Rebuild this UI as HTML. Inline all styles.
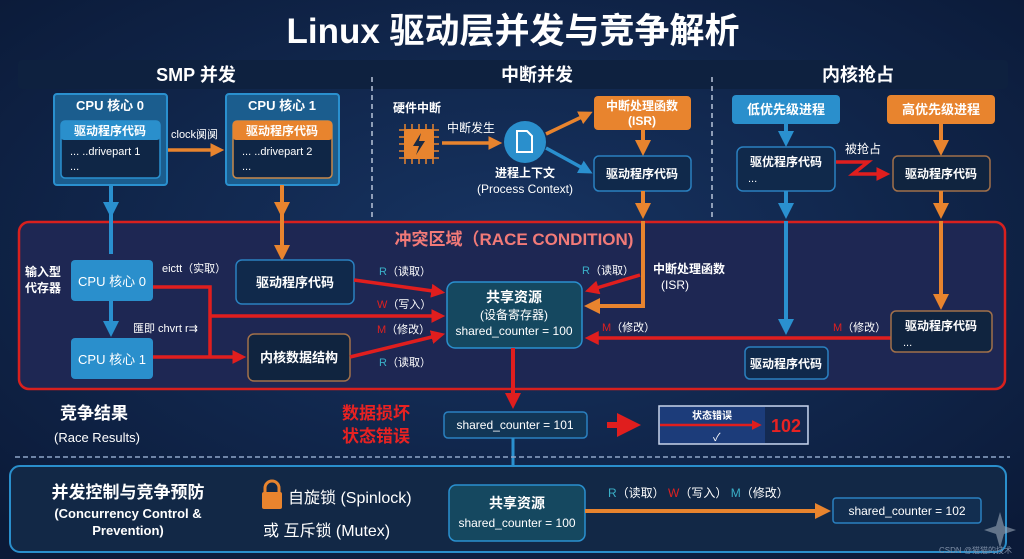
<!DOCTYPE html>
<html><head><meta charset="utf-8"><style>
html,body{margin:0;padding:0;width:1024px;height:559px;overflow:hidden;background:#102446}
svg{display:block}
text{font-family:"Liberation Sans","Noto Sans CJK SC",sans-serif;fill:#fff}
.b{font-weight:bold}
</style></head><body>
<svg width="1024" height="559" viewBox="0 0 1024 559" xmlns="http://www.w3.org/2000/svg">
<defs>
<radialGradient id="bg" cx="50%" cy="45%" r="70%"><stop offset="0" stop-color="#173462"/><stop offset="1" stop-color="#0b1a38"/></radialGradient>
<marker id="ao" markerWidth="4" markerHeight="4" refX="2.5" refY="2" orient="auto" markerUnits="strokeWidth"><path d="M0,0 L4,2 L0,4z" fill="#e8842e"/></marker>
<marker id="ab" markerWidth="4" markerHeight="4" refX="2.5" refY="2" orient="auto" markerUnits="strokeWidth"><path d="M0,0 L4,2 L0,4z" fill="#2a90cf"/></marker>
<marker id="ar" markerWidth="4" markerHeight="4" refX="2.5" refY="2" orient="auto" markerUnits="strokeWidth"><path d="M0,0 L4,2 L0,4z" fill="#e01e1e"/></marker>
</defs>
<rect width="1024" height="559" fill="url(#bg)"/>
<text x="513" y="43" text-anchor="middle" class="b" font-size="35">Linux 驱动层并发与竞争解析</text>
<rect x="18" y="60" width="990" height="29" rx="4" fill="#0e213f"/>
<text x="196" y="81" text-anchor="middle" class="b" font-size="18">SMP 并发</text>
<text x="537" y="81" text-anchor="middle" class="b" font-size="18">中断并发</text>
<text x="858" y="81" text-anchor="middle" class="b" font-size="18">内核抢占</text>
<line x1="372" y1="77" x2="372" y2="375" stroke="#b8c4d8" stroke-width="1.5" stroke-dasharray="5,4"/>
<line x1="712" y1="77" x2="712" y2="375" stroke="#b8c4d8" stroke-width="1.5" stroke-dasharray="5,4"/>

<rect x="19" y="222" width="986" height="167" rx="10" fill="#1e2753" stroke="#d8201e" stroke-width="2.5"/>
<text x="514" y="245" text-anchor="middle" class="b" font-size="17" style="fill:#f27a78">冲突区域（RACE CONDITION)</text>

<rect x="54" y="94" width="113" height="91" rx="3" fill="#1b5d8e" stroke="#2a90cf" stroke-width="2"/>
<text x="110" y="110" text-anchor="middle" class="b" font-size="13">CPU 核心 0</text>
<rect x="61" y="121" width="99" height="57" rx="4" fill="#0f2646" stroke="#2a90cf" stroke-width="1.5"/>
<rect x="61" y="121" width="99" height="19" rx="3" fill="#2a8fcc"/>
<text x="110" y="135" text-anchor="middle" class="b" font-size="12">驱动程序代码</text>
<text x="70" y="155" font-size="11">... ..drivepart 1</text><text x="70" y="170" font-size="11">...</text>
<rect x="226" y="94" width="113" height="91" rx="3" fill="#1b5d8e" stroke="#2a90cf" stroke-width="2"/>
<text x="282" y="110" text-anchor="middle" class="b" font-size="13">CPU 核心 1</text>
<rect x="233" y="121" width="99" height="57" rx="4" fill="#0f2646" stroke="#c8884a" stroke-width="1.5"/>
<rect x="233" y="121" width="99" height="19" rx="3" fill="#e8842e"/>
<text x="282" y="135" text-anchor="middle" class="b" font-size="12">驱动程序代码</text>
<text x="242" y="155" font-size="11">... ..drivepart 2</text><text x="242" y="170" font-size="11">...</text>
<text x="171" y="138" font-size="11">clock阒阒</text>
<line x1="168" y1="150" x2="219" y2="150" stroke="#e8842e" stroke-width="3.5" marker-end="url(#ao)"/>
<line x1="111" y1="185" x2="111" y2="254" stroke="#2a90cf" stroke-width="4"/>
<line x1="111" y1="185" x2="111" y2="212" stroke="#2a90cf" stroke-width="4" marker-end="url(#ab)"/>
<line x1="282" y1="185" x2="282" y2="212" stroke="#e8842e" stroke-width="4" marker-end="url(#ao)"/>
<line x1="282" y1="212" x2="282" y2="255" stroke="#e8842e" stroke-width="4" marker-end="url(#ao)"/>

<text x="25" y="276" class="b" font-size="12">输入型</text><text x="25" y="292" class="b" font-size="12">代存器</text>
<rect x="71" y="260" width="82" height="41" rx="4" fill="#2a8fcc"/>
<text x="112" y="286" text-anchor="middle" font-size="13">CPU 核心 0</text>
<rect x="71" y="338" width="82" height="41" rx="4" fill="#2a8fcc"/>
<text x="112" y="364" text-anchor="middle" font-size="13">CPU 核心 1</text>
<line x1="111" y1="301" x2="111" y2="331" stroke="#2a90cf" stroke-width="4" marker-end="url(#ab)"/>
<text x="162" y="272" font-size="11">eictt（实取）</text>
<text x="133" y="332" font-size="11">匯即 chvrt r⇉</text>
<rect x="236" y="260" width="118" height="44" rx="6" fill="#10294b" stroke="#2a80c0" stroke-width="1.5"/>
<text x="295" y="287" text-anchor="middle" class="b" font-size="13">驱动程序代码</text>
<rect x="248" y="334" width="102" height="47" rx="6" fill="#10243f" stroke="#a0704a" stroke-width="1.5"/>
<text x="299" y="362" text-anchor="middle" class="b" font-size="13">内核数据结构</text>
<polyline points="153,287 210,287 210,357" fill="none" stroke="#e01e1e" stroke-width="3.5"/>
<line x1="210" y1="316" x2="440" y2="316" stroke="#e01e1e" stroke-width="3.5" marker-end="url(#ar)"/>
<line x1="153" y1="357" x2="241" y2="357" stroke="#e01e1e" stroke-width="3.5" marker-end="url(#ar)"/>
<line x1="354" y1="280" x2="440" y2="292" stroke="#e01e1e" stroke-width="3.5" marker-end="url(#ar)"/>
<line x1="350" y1="357" x2="440" y2="335" stroke="#e01e1e" stroke-width="3.5" marker-end="url(#ar)"/>
<text x="379" y="275" font-size="11"><tspan style="fill:#3ab0c8">R</tspan>（读取）</text>
<text x="377" y="308" font-size="11"><tspan style="fill:#e02020">W</tspan>（写入）</text>
<text x="377" y="333" font-size="11"><tspan style="fill:#e02020">M</tspan>（修改）</text>
<text x="379" y="366" font-size="11"><tspan style="fill:#3ab0c8">R</tspan>（读取）</text>

<rect x="447" y="282" width="135" height="66" rx="8" fill="#154860" stroke="#2a90cf" stroke-width="1.5"/>
<text x="514" y="302" text-anchor="middle" class="b" font-size="14">共享资源</text>
<text x="514" y="319" text-anchor="middle" font-size="12">(设备寄存器)</text>
<text x="514" y="335" text-anchor="middle" font-size="12">shared_counter = 100</text>

<text x="393" y="112" class="b" font-size="12">硬件中断</text>
<g stroke="#e8842e" stroke-width="1.5">
<line x1="405" y1="124" x2="405" y2="164"/><line x1="412" y1="124" x2="412" y2="164"/><line x1="419" y1="124" x2="419" y2="164"/><line x1="426" y1="124" x2="426" y2="164"/><line x1="433" y1="124" x2="433" y2="164"/>
<line x1="399" y1="130" x2="439" y2="130"/><line x1="399" y1="137" x2="439" y2="137"/><line x1="399" y1="144" x2="439" y2="144"/><line x1="399" y1="151" x2="439" y2="151"/><line x1="399" y1="158" x2="439" y2="158"/>
</g>
<rect x="404" y="129" width="30" height="30" rx="3" fill="#e8842e"/>
<path d="M421,133 L413,146 L419,146 L416,155 L425,141 L419,141z" fill="#1a2a44"/>
<text x="447" y="132" font-size="12">中断发生</text>
<line x1="442" y1="143" x2="497" y2="143" stroke="#e8842e" stroke-width="3.5" marker-end="url(#ao)"/>
<circle cx="525" cy="142" r="21" fill="#2a8fcc"/>
<path d="M517,131 h10 l5,5 v16 h-15z" fill="none" stroke="#fff" stroke-width="2"/>
<text x="525" y="177" text-anchor="middle" class="b" font-size="12">进程上下文</text>
<text x="525" y="193" text-anchor="middle" font-size="12">(Process Context)</text>
<line x1="546" y1="134" x2="588" y2="114" stroke="#e8842e" stroke-width="3.5" marker-end="url(#ao)"/>
<line x1="546" y1="148" x2="588" y2="171" stroke="#2a90cf" stroke-width="3.5" marker-end="url(#ab)"/>
<rect x="594" y="96" width="97" height="34" rx="4" fill="#e8842e"/>
<text x="642" y="110" text-anchor="middle" class="b" font-size="12">中断处理函数</text>
<text x="642" y="125" text-anchor="middle" class="b" font-size="12">(ISR)</text>
<rect x="594" y="156" width="97" height="35" rx="5" fill="#10294b" stroke="#2a80c0" stroke-width="1.5"/>
<text x="642" y="178" text-anchor="middle" class="b" font-size="12">驱动程序代码</text>
<line x1="643" y1="130" x2="643" y2="150" stroke="#e8842e" stroke-width="4" marker-end="url(#ao)"/>
<line x1="643" y1="191" x2="643" y2="213" stroke="#e8842e" stroke-width="4" marker-end="url(#ao)"/>
<polyline points="643,221 643,306 590,306" fill="none" stroke="#e8842e" stroke-width="4" marker-end="url(#ao)"/>
<line x1="640" y1="275" x2="590" y2="290" stroke="#e01e1e" stroke-width="3.5" marker-end="url(#ar)"/>
<text x="582" y="274" font-size="11"><tspan style="fill:#3ab0c8">R</tspan>（读取）</text>
<text x="653" y="273" class="b" font-size="12">中断处理函数</text>
<text x="661" y="289" font-size="12">(ISR)</text>
<text x="602" y="331" font-size="11"><tspan style="fill:#e02020">M</tspan>（修改）</text>
<line x1="891" y1="338" x2="590" y2="338" stroke="#e01e1e" stroke-width="3.5" marker-end="url(#ar)"/>
<text x="833" y="331" font-size="11"><tspan style="fill:#e02020">M</tspan>（修改）</text>

<rect x="732" y="95" width="108" height="29" rx="4" fill="#2a8fcc"/>
<text x="786" y="114" text-anchor="middle" class="b" font-size="13">低优先级进程</text>
<rect x="887" y="95" width="108" height="29" rx="4" fill="#e8842e"/>
<text x="941" y="114" text-anchor="middle" class="b" font-size="13">高优先级进程</text>
<line x1="786" y1="124" x2="786" y2="141" stroke="#2a90cf" stroke-width="4" marker-end="url(#ab)"/>
<line x1="941" y1="124" x2="941" y2="150" stroke="#e8842e" stroke-width="4" marker-end="url(#ao)"/>
<rect x="737" y="147" width="98" height="44" rx="6" fill="#10294b" stroke="#2a80c0" stroke-width="1.5"/>
<text x="786" y="166" text-anchor="middle" class="b" font-size="12">驱优程序代码</text><text x="748" y="182" font-size="11">...</text>
<rect x="893" y="156" width="97" height="35" rx="5" fill="#10243f" stroke="#a0704a" stroke-width="1.5"/>
<text x="941" y="178" text-anchor="middle" class="b" font-size="12">驱动程序代码</text>
<text x="845" y="153" font-size="12">被抢占</text>
<polyline points="836,162 868,162 853,174 885,174" fill="none" stroke="#e01e1e" stroke-width="3.5" marker-end="url(#ar)"/>
<line x1="786" y1="191" x2="786" y2="213" stroke="#2a90cf" stroke-width="4" marker-end="url(#ab)"/>
<line x1="941" y1="191" x2="941" y2="213" stroke="#e8842e" stroke-width="4" marker-end="url(#ao)"/>
<line x1="786" y1="221" x2="786" y2="329" stroke="#2a90cf" stroke-width="4" marker-end="url(#ab)"/>
<line x1="941" y1="221" x2="941" y2="304" stroke="#e8842e" stroke-width="4" marker-end="url(#ao)"/>
<rect x="745" y="347" width="83" height="32" rx="5" fill="#10294b" stroke="#2a80c0" stroke-width="1.5"/>
<text x="786" y="368" text-anchor="middle" class="b" font-size="12">驱动程序代码</text>
<rect x="891" y="311" width="101" height="41" rx="5" fill="#10243f" stroke="#a0704a" stroke-width="1.5"/>
<text x="941" y="330" text-anchor="middle" class="b" font-size="12">驱动程序代码</text><text x="903" y="346" font-size="11">...</text>

<line x1="513" y1="348" x2="513" y2="403" stroke="#e01e1e" stroke-width="4" marker-end="url(#ar)"/>
<text x="94" y="419" text-anchor="middle" class="b" font-size="17">竞争结果</text>
<text x="97" y="442" text-anchor="middle" font-size="13">(Race Results)</text>
<text x="376" y="419" text-anchor="middle" class="b" font-size="17" style="fill:#e82222">数据损坏</text>
<text x="376" y="442" text-anchor="middle" class="b" font-size="17" style="fill:#e82222">状态错误</text>
<rect x="444" y="412" width="143" height="26" rx="4" fill="#123656" stroke="#2a80c0" stroke-width="1.5"/>
<text x="515" y="429" text-anchor="middle" font-size="12">shared_counter = 101</text>
<line x1="607" y1="425" x2="632" y2="425" stroke="#e01e1e" stroke-width="6" marker-end="url(#ar)"/>
<rect x="659" y="406" width="149" height="38" fill="#1c3c7a" stroke="#c8d4ea" stroke-width="1.5"/>
<rect x="765" y="407" width="42" height="36" fill="#142a52"/>
<text x="712" y="419" text-anchor="middle" class="b" font-size="10">状态错误</text>
<line x1="660" y1="425" x2="758" y2="425" stroke="#e01e1e" stroke-width="2.5" marker-end="url(#ar)"/>
<text x="713" y="441" font-size="11">✓</text>
<text x="786" y="432" text-anchor="middle" class="b" font-size="18" style="fill:#e82222">102</text>
<line x1="513" y1="438" x2="513" y2="476" stroke="#2a90cf" stroke-width="3" marker-end="url(#ab)"/>
<line x1="15" y1="457" x2="1010" y2="457" stroke="#8fa6c8" stroke-width="1.5" stroke-dasharray="5,3"/>

<rect x="10" y="466" width="996" height="86" rx="10" fill="#122846" stroke="#2a8fcc" stroke-width="2"/>
<text x="128" y="498" text-anchor="middle" class="b" font-size="17">并发控制与竞争预防</text>
<text x="128" y="518" text-anchor="middle" class="b" font-size="13">(Concurrency Control &amp;</text>
<text x="128" y="535" text-anchor="middle" class="b" font-size="13">Prevention)</text>
<path d="M265,493 v-5 a7,7 0 0 1 14,0 v5" fill="none" stroke="#e8842e" stroke-width="3"/>
<rect x="262" y="492" width="20" height="17" rx="2" fill="#e8842e"/>
<text x="288" y="503" font-size="16">自旋锁 (Spinlock)</text>
<text x="263" y="536" font-size="16">或 互斥锁 (Mutex)</text>
<rect x="449" y="485" width="136" height="56" rx="7" fill="#154860" stroke="#2a90cf" stroke-width="1.5"/>
<text x="517" y="508" text-anchor="middle" class="b" font-size="14">共享资源</text>
<text x="517" y="527" text-anchor="middle" font-size="12">shared_counter = 100</text>
<text x="608" y="497" font-size="12"><tspan style="fill:#3ab0c8">R</tspan>（读取） <tspan style="fill:#e02020">W</tspan>（写入）  <tspan style="fill:#3ab0c8">M</tspan>（修改）</text>
<line x1="585" y1="511" x2="825" y2="511" stroke="#e8842e" stroke-width="4" marker-end="url(#ao)"/>
<rect x="833" y="498" width="148" height="25" rx="3" fill="#122e50" stroke="#2a80c0" stroke-width="1.5"/>
<text x="907" y="515" text-anchor="middle" font-size="12">shared_counter = 102</text>
<path d="M1000,512 L1004,526 L1016,530 L1004,534 L1000,548 L996,534 L984,530 L996,526z" fill="#9aa6b8" opacity="0.6"/>
<text x="1012" y="553" text-anchor="end" font-size="8" style="fill:#8090a8">CSDN @猫猫的技术</text>
</svg>
</body></html>
